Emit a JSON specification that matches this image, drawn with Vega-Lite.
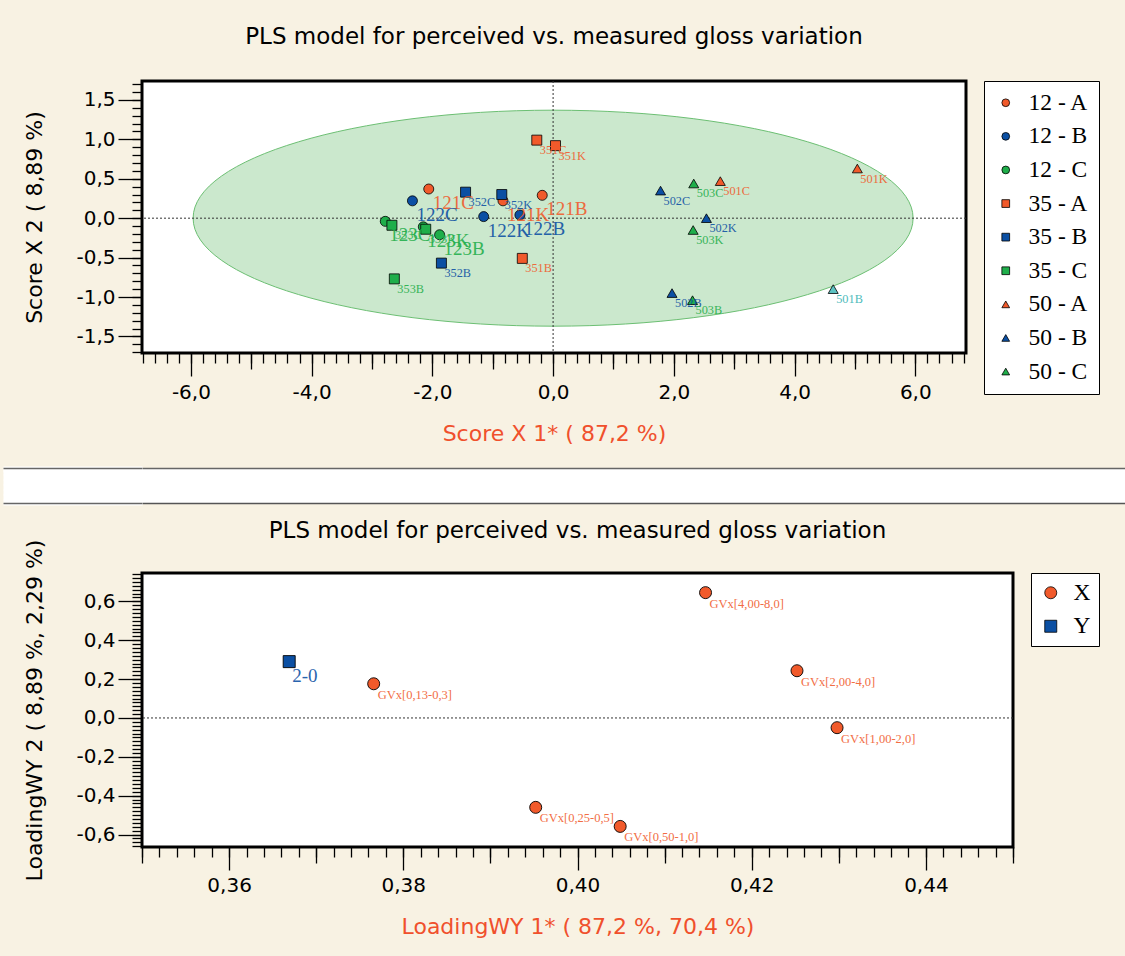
{
  "$schema": "https://vega.github.io/schema/vega-lite/v6.json",
  "background": "#f8f2e3",
  "padding": {"top": 24, "left": 0, "right": 0, "bottom": 30},
  "spacing": 13,
  "datasets": {
    "scores": [
      {"x": -2.06, "y": 0.37, "group": "12 - A", "label": "121C"},
      {"x": -0.83, "y": 0.22, "group": "12 - A", "label": "121K"},
      {"x": -0.18, "y": 0.29, "group": "12 - A", "label": "121B"},
      {"x": -2.33, "y": 0.22, "group": "12 - B", "label": "122C"},
      {"x": -1.15, "y": 0.02, "group": "12 - B", "label": "122K"},
      {"x": -0.55, "y": 0.04, "group": "12 - B", "label": "122B"},
      {"x": -2.78, "y": -0.04, "group": "12 - C", "label": "123C"},
      {"x": -2.15, "y": -0.11, "group": "12 - C", "label": "123K"},
      {"x": -1.88, "y": -0.21, "group": "12 - C", "label": "123B"},
      {"x": -0.27, "y": 0.99, "group": "35 - A", "label": "351C"},
      {"x": 0.04, "y": 0.92, "group": "35 - A", "label": "351K"},
      {"x": -0.51, "y": -0.51, "group": "35 - A", "label": "351B"},
      {"x": -1.45, "y": 0.33, "group": "35 - B", "label": "352C"},
      {"x": -0.85, "y": 0.3, "group": "35 - B", "label": "352K"},
      {"x": -1.85, "y": -0.57, "group": "35 - B", "label": "352B"},
      {"x": -2.67, "y": -0.09, "group": "35 - C", "label": "353C"},
      {"x": -2.11, "y": -0.14, "group": "35 - C", "label": "353K"},
      {"x": -2.63, "y": -0.77, "group": "35 - C", "label": "353B"},
      {"x": 2.77, "y": 0.47, "group": "50 - A", "label": "501C"},
      {"x": 5.04, "y": 0.63, "group": "50 - A", "label": "501K"},
      {"x": 4.64, "y": -0.9, "group": "50 - A", "label": "501B"},
      {"x": 1.78, "y": 0.35, "group": "50 - B", "label": "502C"},
      {"x": 2.54, "y": 0.0, "group": "50 - B", "label": "502K"},
      {"x": 1.97, "y": -0.95, "group": "50 - B", "label": "502B"},
      {"x": 2.33, "y": 0.44, "group": "50 - C", "label": "503C"},
      {"x": 2.32, "y": -0.15, "group": "50 - C", "label": "503K"},
      {"x": 2.31, "y": -1.04, "group": "50 - C", "label": "503B"}
    ],
    "loadings": [
      {"x": 0.4147, "y": 0.645, "type": "X", "label": "GVx[4,00-8,0]"},
      {"x": 0.4252, "y": 0.243, "type": "X", "label": "GVx[2,00-4,0]"},
      {"x": 0.4298, "y": -0.05, "type": "X", "label": "GVx[1,00-2,0]"},
      {"x": 0.3952, "y": -0.46, "type": "X", "label": "GVx[0,25-0,5]"},
      {"x": 0.4049, "y": -0.558, "type": "X", "label": "GVx[0,50-1,0]"},
      {"x": 0.3766, "y": 0.176, "type": "X", "label": "GVx[0,13-0,3]"},
      {"x": 0.3669, "y": 0.29, "type": "Y", "label": "2-0"}
    ],
    "origin": [{"v": 0}],
    "ellipse": [{"cx": 0, "cy": 0}],
    "band": [{"g": 0.5}]
  },
  "vconcat": [
    {
      "width": 824,
      "height": 272,
      "title": {"text": "PLS model for perceived vs. measured gloss variation", "offset": 14, "baseline": "alphabetic"},
      "resolve": {"axis": {"x": "independent", "y": "independent"}},
      "layer": [
        {
          "data": {"name": "ellipse"},
          "mark": {"type": "point", "shape": "M-1,0C-1,-0.1657,-0.5523,-0.3,0,-0.3C0.5523,-0.3,1,-0.1657,1,0C1,0.1657,0.5523,0.3,0,0.3C-0.5523,0.3,-1,0.1657,-1,0Z", "size": 518400, "filled": true, "fill": "#cbe8cd", "stroke": "#6cbf73", "strokeWidth": 1, "opacity": 1},
          "encoding": {
            "x": {"field": "cx", "type": "quantitative", "scale": {"domain": [-6.81, 6.84], "nice": false, "zero": false},
              "axis": {"orient": "bottom", "values": [-6, -4, -2, 0, 2, 4, 6], "format": ".1f", "tickSize": 23, "labelPadding": 6, "title": "Score X 1* ( 87,2 %)", "titleColor": "#f0502c", "titlePadding": 21}},
            "y": {"field": "cy", "type": "quantitative", "scale": {"domain": [-1.71, 1.74], "nice": false, "zero": false},
              "axis": {"orient": "left", "values": [-1.5, -1, -0.5, 0, 0.5, 1, 1.5], "format": ".1f", "tickSize": 24, "labelPadding": 3, "title": "Score X 2 ( 8,89 %)", "titlePadding": 29}}
          }
        },
        {
          "data": {"name": "origin"},
          "mark": {"type": "rule", "strokeDash": [2, 2], "color": "#333333", "strokeWidth": 1},
          "encoding": {
            "x": {"field": "v", "type": "quantitative", "scale": {"domain": [-6.81, 6.84], "nice": false, "zero": false},
              "axis": {"orient": "bottom", "values": [-5, -3, -1, 1, 3, 5], "labels": false, "tickSize": 16, "title": null}}
          }
        },
        {
          "data": {"name": "origin"},
          "mark": {"type": "rule", "strokeDash": [2, 2], "color": "#333333", "strokeWidth": 1},
          "encoding": {
            "y": {"field": "v", "type": "quantitative", "scale": {"domain": [-1.71, 1.74], "nice": false, "zero": false},
              "axis": {"orient": "left", "values": [-1.7, -1.6, -1.5, -1.4, -1.3, -1.2, -1.1, -1, -0.9, -0.8, -0.7, -0.6, -0.5, -0.4, -0.3, -0.2, -0.1, 0, 0.1, 0.2, 0.3, 0.4, 0.5, 0.6, 0.7, 0.8, 0.9, 1, 1.1, 1.2, 1.3, 1.4, 1.5, 1.6, 1.7], "labels": false, "tickSize": 10, "title": "\u00a0", "titleFontSize": 20, "titlePadding": 107.7}}
          }
        },
        {
          "data": {"name": "scores"},
          "transform": [{"filter": "datum.label != '501B'"}],
          "mark": {"type": "point", "filled": true, "opacity": 1, "stroke": "black", "strokeWidth": 0.8, "size": 100},
          "encoding": {
            "x": {"field": "x", "type": "quantitative", "scale": {"domain": [-6.81, 6.84], "nice": false, "zero": false},
              "axis": {"orient": "bottom", "values": [-6.8, -6.6, -6.4, -6.2, -6, -5.8, -5.6, -5.4, -5.2, -5, -4.8, -4.6, -4.4, -4.2, -4, -3.8, -3.6, -3.4, -3.2, -3, -2.8, -2.6, -2.4, -2.2, -2, -1.8, -1.6, -1.4, -1.2, -1, -0.8, -0.6, -0.4, -0.2, 0, 0.2, 0.4, 0.6, 0.8, 1, 1.2, 1.4, 1.6, 1.8, 2, 2.2, 2.4, 2.6, 2.8, 3, 3.2, 3.4, 3.6, 3.8, 4, 4.2, 4.4, 4.6, 4.8, 5, 5.2, 5.4, 5.6, 5.8, 6, 6.2, 6.4, 6.6, 6.8], "labels": false, "tickSize": 10, "title": "\u00a0", "titleFontSize": 20, "titlePadding": 67}},
            "y": {"field": "y", "type": "quantitative", "scale": {"domain": [-1.71, 1.74], "nice": false, "zero": false}, "axis": null},
            "color": {"field": "group", "type": "nominal",
              "scale": {"domain": ["12 - A", "12 - B", "12 - C", "35 - A", "35 - B", "35 - C", "50 - A", "50 - B", "50 - C"], "range": ["#f15a2b", "#0b4fa3", "#1fae4a", "#f15a2b", "#0b4fa3", "#1fae4a", "#f15a2b", "#0b4fa3", "#1fae4a"]},
              "legend": {"title": null, "orient": "right", "offset": 18, "padding": 10, "rowPadding": 8.6, "symbolSize": 60, "labelOffset": 11}},
            "shape": {"field": "group", "type": "nominal",
              "scale": {"domain": ["12 - A", "12 - B", "12 - C", "35 - A", "35 - B", "35 - C", "50 - A", "50 - B", "50 - C"], "range": ["circle", "circle", "circle", "square", "square", "square", "triangle-up", "triangle-up", "triangle-up"]},
              "legend": {"title": null, "orient": "right", "offset": 18, "padding": 10, "rowPadding": 8.6, "symbolSize": 60, "labelOffset": 11}}
          }
        },
        {
          "data": {"name": "scores"},
          "transform": [{"filter": "indexof(datum.group, '12') == 0"}],
          "mark": {"type": "text", "font": "Liberation Serif", "fontSize": 19, "align": "left", "baseline": "middle", "dx": 4, "dy": 14, "opacity": 0.88},
          "encoding": {
            "x": {"field": "x", "type": "quantitative", "scale": {"domain": [-6.81, 6.84], "nice": false, "zero": false}, "axis": null},
            "y": {"field": "y", "type": "quantitative", "scale": {"domain": [-1.71, 1.74], "nice": false, "zero": false}, "axis": null},
            "text": {"field": "label"},
            "color": {"field": "group", "type": "nominal", "legend": null}
          }
        },
        {
          "data": {"name": "scores"},
          "transform": [{"filter": "indexof(datum.group, '12') != 0 && datum.label != '501B'"}],
          "mark": {"type": "text", "font": "Liberation Serif", "fontSize": 12.3, "align": "left", "baseline": "middle", "dx": 3, "dy": 10, "opacity": 0.88},
          "encoding": {
            "x": {"field": "x", "type": "quantitative", "scale": {"domain": [-6.81, 6.84], "nice": false, "zero": false}, "axis": null},
            "y": {"field": "y", "type": "quantitative", "scale": {"domain": [-1.71, 1.74], "nice": false, "zero": false}, "axis": null},
            "text": {"field": "label"},
            "color": {"field": "group", "type": "nominal", "legend": null}
          }
        },
        {
          "data": {"name": "scores"},
          "transform": [{"filter": "datum.label == '501B'"}],
          "mark": {"type": "point", "filled": true, "opacity": 1, "shape": "triangle-up", "fill": "#5cc3c3", "stroke": "black", "strokeWidth": 0.8, "size": 100},
          "encoding": {
            "x": {"field": "x", "type": "quantitative", "scale": {"domain": [-6.81, 6.84], "nice": false, "zero": false}, "axis": null},
            "y": {"field": "y", "type": "quantitative", "scale": {"domain": [-1.71, 1.74], "nice": false, "zero": false}, "axis": null}
          }
        },
        {
          "data": {"name": "scores"},
          "transform": [{"filter": "datum.label == '501B'"}],
          "mark": {"type": "text", "font": "Liberation Serif", "fontSize": 12.3, "align": "left", "baseline": "middle", "dx": 3, "dy": 10, "color": "#4fbcbc"},
          "encoding": {
            "x": {"field": "x", "type": "quantitative", "scale": {"domain": [-6.81, 6.84], "nice": false, "zero": false}, "axis": null},
            "y": {"field": "y", "type": "quantitative", "scale": {"domain": [-1.71, 1.74], "nice": false, "zero": false}, "axis": null},
            "text": {"field": "label"}
          }
        }
      ]
    },
    {
      "width": 984,
      "height": 35,
      "view": {"fill": "white", "stroke": null},
      "data": {"name": "band"},
      "resolve": {"axis": {"x": "independent", "y": "independent"}},
      "layer": [
        {
          "mark": {"type": "point", "opacity": 0},
          "encoding": {
            "x": {"field": "g", "type": "quantitative", "scale": {"domain": [0, 1]},
              "axis": {"orient": "top", "domain": true, "domainColor": "#666666", "domainWidth": 1.5, "ticks": false, "labels": false, "title": null}},
            "y": {"field": "g", "type": "quantitative", "scale": {"domain": [0, 1]},
              "axis": {"orient": "left", "values": [0.04, 0.18, 0.32, 0.46, 0.6, 0.74, 0.88, 0.97], "tickWidth": 6, "tickColor": "white", "tickSize": 139, "labels": false, "title": null}}
          }
        },
        {
          "mark": {"type": "point", "opacity": 0},
          "encoding": {
            "x": {"field": "g", "type": "quantitative", "scale": {"domain": [0, 1]},
              "axis": {"orient": "bottom", "domain": true, "domainColor": "#555555", "domainWidth": 1.5, "ticks": false, "labels": false, "title": null}},
            "y": {"field": "g", "type": "quantitative", "scale": {"domain": [0, 1]},
              "axis": {"orient": "left", "values": [0, 1], "tickWidth": 1.5, "tickColor": "#666666", "tickSize": 139, "labels": false, "title": null, "zindex": 1}}
          }
        }
      ]
    },
    {
      "width": 871,
      "height": 274,
      "title": {"text": "PLS model for perceived vs. measured gloss variation", "offset": -25, "baseline": "alphabetic"},
      "resolve": {"axis": {"x": "independent", "y": "independent"}},
      "layer": [
        {
          "data": {"name": "origin"},
          "mark": {"type": "rule", "strokeDash": [2, 2], "color": "#333333", "strokeWidth": 1},
          "encoding": {
            "y": {"field": "v", "type": "quantitative", "scale": {"domain": [-0.664, 0.746], "nice": false, "zero": false},
              "axis": {"orient": "left", "values": [-0.6, -0.4, -0.2, 0, 0.2, 0.4, 0.6], "format": ".1f", "tickSize": 24, "labelPadding": 3, "title": "LoadingWY 2 ( 8,89 %,  2,29 %)", "titlePadding": 29}}
          }
        },
        {
          "data": {"name": "loadings"},
          "mark": {"type": "point", "filled": true, "opacity": 1, "stroke": "black", "strokeWidth": 0.9, "size": 144},
          "encoding": {
            "x": {"field": "x", "type": "quantitative", "scale": {"domain": [0.35, 0.45], "nice": false, "zero": false},
              "axis": {"orient": "bottom", "values": [0.36, 0.38, 0.4, 0.42, 0.44], "format": ".2f", "tickSize": 23, "labelPadding": 5, "title": "LoadingWY 1* ( 87,2 %,  70,4 %)", "titleColor": "#f0502c", "titlePadding": 21}},
            "y": {"field": "y", "type": "quantitative", "scale": {"domain": [-0.664, 0.746], "nice": false, "zero": false},
              "axis": {"orient": "left", "values": [-0.66, -0.64, -0.62, -0.6, -0.58, -0.56, -0.54, -0.52, -0.5, -0.48, -0.46, -0.44, -0.42, -0.4, -0.38, -0.36, -0.34, -0.32, -0.3, -0.28, -0.26, -0.24, -0.22, -0.2, -0.18, -0.16, -0.14, -0.12, -0.1, -0.08, -0.06, -0.04, -0.02, 0, 0.02, 0.04, 0.06, 0.08, 0.1, 0.12, 0.14, 0.16, 0.18, 0.2, 0.22, 0.24, 0.26, 0.28, 0.3, 0.32, 0.34, 0.36, 0.38, 0.4, 0.42, 0.44, 0.46, 0.48, 0.5, 0.52, 0.54, 0.56, 0.58, 0.6, 0.62, 0.64, 0.66, 0.68, 0.7, 0.72, 0.74], "labels": false, "tickSize": 10, "title": "\u00a0", "titleFontSize": 20, "titlePadding": 107.7}},
            "color": {"field": "type", "type": "nominal", "scale": {"domain": ["X", "Y"], "range": ["#f15a2b", "#0b4fa3"]},
              "legend": {"title": null, "orient": "right", "offset": 18, "padding": 8, "rowPadding": 8.5, "symbolSize": 144, "labelOffset": 11}},
            "shape": {"field": "type", "type": "nominal", "scale": {"domain": ["X", "Y"], "range": ["circle", "square"]},
              "legend": {"title": null, "orient": "right", "offset": 18, "padding": 8, "rowPadding": 8.5, "symbolSize": 144, "labelOffset": 11}}
          }
        },
        {
          "data": {"name": "loadings"},
          "transform": [{"filter": "datum.type == 'X'"}],
          "mark": {"type": "text", "font": "Liberation Serif", "fontSize": 12.5, "align": "left", "baseline": "middle", "dx": 4, "dy": 11, "opacity": 0.88},
          "encoding": {
            "x": {"field": "x", "type": "quantitative", "scale": {"domain": [0.35, 0.45], "nice": false, "zero": false},
              "axis": {"orient": "bottom", "values": [0.35, 0.37, 0.39, 0.41, 0.43, 0.45], "labels": false, "tickSize": 16, "title": null}},
            "y": {"field": "y", "type": "quantitative", "scale": {"domain": [-0.664, 0.746], "nice": false, "zero": false}, "axis": null},
            "text": {"field": "label"},
            "color": {"field": "type", "type": "nominal", "legend": null}
          }
        },
        {
          "data": {"name": "loadings"},
          "transform": [{"filter": "datum.type == 'Y'"}],
          "mark": {"type": "text", "font": "Liberation Serif", "fontSize": 19, "align": "left", "baseline": "middle", "dx": 3, "dy": 14, "opacity": 0.88},
          "encoding": {
            "x": {"field": "x", "type": "quantitative", "scale": {"domain": [0.35, 0.45], "nice": false, "zero": false},
              "axis": {"orient": "bottom", "values": [0.35, 0.352, 0.354, 0.356, 0.358, 0.36, 0.362, 0.364, 0.366, 0.368, 0.37, 0.372, 0.374, 0.376, 0.378, 0.38, 0.382, 0.384, 0.386, 0.388, 0.39, 0.392, 0.394, 0.396, 0.398, 0.4, 0.402, 0.404, 0.406, 0.408, 0.41, 0.412, 0.414, 0.416, 0.418, 0.42, 0.422, 0.424, 0.426, 0.428, 0.43, 0.432, 0.434, 0.436, 0.438, 0.44, 0.442, 0.444, 0.446, 0.448, 0.45], "labels": false, "tickSize": 10, "title": null}},
            "y": {"field": "y", "type": "quantitative", "scale": {"domain": [-0.664, 0.746], "nice": false, "zero": false}, "axis": null},
            "text": {"field": "label"},
            "color": {"field": "type", "type": "nominal", "legend": null}
          }
        }
      ]
    }
  ],
  "resolve": {
    "scale": {"x": "independent", "y": "independent", "color": "independent", "shape": "independent"},
    "axis": {"x": "independent", "y": "independent"},
    "legend": {"color": "independent", "shape": "independent"}
  },
  "config": {
    "view": {"fill": "white", "stroke": "black", "strokeWidth": 3},
    "axis": {"labelFont": "DejaVu Sans", "labelFontSize": 20, "labelColor": "black", "titleFont": "DejaVu Sans", "titleFontSize": 22, "titleFontWeight": "normal", "titleColor": "black", "tickColor": "black", "tickWidth": 1.3, "domain": false, "grid": false, "labelFlush": false, "labelOverlap": false},
    "title": {"font": "DejaVu Sans", "fontSize": 23, "fontWeight": "normal", "color": "black", "anchor": "middle", "frame": "group"},
    "legend": {"fillColor": "white", "strokeColor": "black", "labelFont": "Liberation Serif", "labelFontSize": 23.5, "labelColor": "black", "symbolStrokeColor": "black", "symbolStrokeWidth": 0.8},
    "locale": {"number": {"decimal": ",", "thousands": ".", "grouping": [3], "currency": ["", ""], "minus": "-"}}
  }
}
